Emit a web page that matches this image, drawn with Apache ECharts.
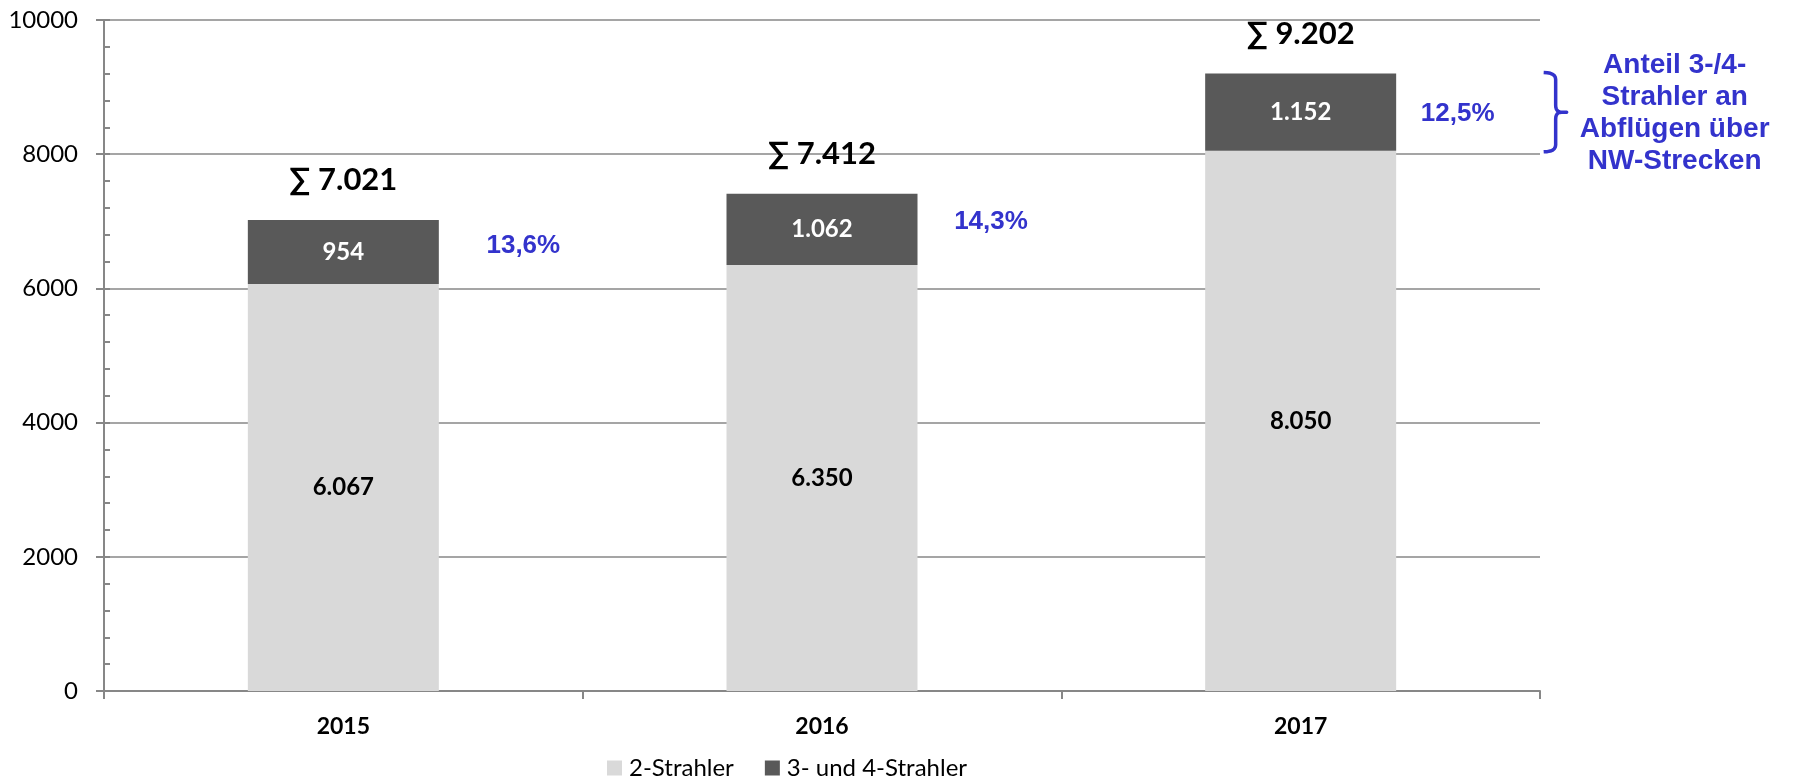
<!DOCTYPE html>
<html>
<head>
<meta charset="utf-8">
<script src="https://cdn.jsdelivr.net/npm/echarts@6/dist/echarts.min.js"></script>
<style>
html,body{margin:0;padding:0;background:#fff;}
#chart{width:1793px;height:779px;}
</style>
</head>
<body>
<div id="chart"></div>
<script>
const categories = ['2015', '2016', '2017'];
const twoEngine = [6067, 6350, 8050];
const threeFourEngine = [954, 1062, 1152];
const totals = [7021, 7412, 9202];
const shares = ['13,6%', '14,3%', '12,5%'];
const seriesNames = ['2-Strahler', '3- und 4-Strahler'];
const noteText = 'Anteil 3-/4-\nStrahler an\nAbflügen über\nNW-Strecken';

const fmt = v => String(v).replace(/\B(?=(\d{3})+(?!\d))/g, '.');
const blue = '#3333CC';
const gray = '#878787';
const shareOffsets = [[180, -6], [169, -7], [157, 2]];

const chart = echarts.init(document.getElementById('chart'));
chart.setOption({
  animation: false,
  textStyle: { fontFamily: 'Lato' },
  grid: { left: 104, right: 253, top: 20, bottom: 88 },
  legend: {
    data: seriesNames,
    top: 751,
    left: 602,
    itemWidth: 15,
    itemHeight: 15,
    itemGap: 31,
    icon: 'rect',
    textStyle: { fontSize: 24, color: '#000', fontFamily: 'Lato', lineHeight: 22, padding: [0, 0, 0, 2] }
  },
  xAxis: {
    type: 'category',
    data: categories,
    axisLine: { lineStyle: { color: gray, width: 2 } },
    axisTick: { show: true, length: 8, lineStyle: { color: gray, width: 2 } },
    axisLabel: { fontSize: 23, fontWeight: 'bold', color: '#000', margin: 24, fontFamily: 'Lato' }
  },
  yAxis: [{
    type: 'value',
    min: 0, max: 10000, interval: 2000,
    axisLine: { show: true, lineStyle: { color: gray, width: 2 } },
    axisTick: { show: true, length: 8, lineStyle: { color: gray, width: 2 } },
    splitLine: { lineStyle: { color: gray, width: 1.5 } },
    axisLabel: { fontSize: 24, color: '#000', margin: 26, fontFamily: 'Lato', formatter: v => String(v) }
  }, {
    type: 'value',
    min: 0, max: 10000, interval: 400,
    position: 'left',
    axisLine: { show: false },
    axisTick: { show: true, inside: true, length: 6, lineStyle: { color: gray, width: 2 } },
    splitLine: { show: false },
    axisLabel: { show: false }
  }],
  series: [{
    name: seriesNames[0],
    type: 'bar',
    stack: 'a',
    barWidth: 191,
    data: twoEngine,
    itemStyle: { color: '#D9D9D9' },
    label: {
      show: true, position: 'inside',
      formatter: p => fmt(p.value),
      fontSize: 24, fontWeight: 'bold', color: '#000', fontFamily: 'Lato'
    }
  }, {
    name: seriesNames[1],
    type: 'bar',
    stack: 'a',
    barWidth: 191,
    data: threeFourEngine,
    itemStyle: { color: '#595959' },
    label: {
      show: true, position: 'inside',
      formatter: p => fmt(p.value),
      fontSize: 24, fontWeight: 'bold', color: '#fff', fontFamily: 'Lato'
    }
  }, {
    name: 'sum',
    type: 'scatter',
    symbolSize: 0,
    silent: true,
    itemStyle: { opacity: 1 },
    data: totals.map((t, i) => [i, t]),
    label: {
      show: true, position: 'top', distance: 24, opacity: 1,
      formatter: p => '∑ ' + fmt(totals[p.dataIndex]),
      fontSize: 31, fontWeight: 'bold', color: '#000', fontFamily: 'Lato'
    }
  }, {
    name: 'share',
    type: 'scatter',
    symbolSize: 0,
    silent: true,
    itemStyle: { opacity: 1 },
    data: twoEngine.map((v, i) => ({
      value: [i, v + threeFourEngine[i] / 2],
      label: { offset: shareOffsets[i] }
    })),
    label: {
      show: true, position: 'inside', opacity: 1,
      formatter: p => shares[p.dataIndex],
      fontSize: 26, fontWeight: 'bold', color: blue, fontFamily: 'Liberation Sans'
    }
  }]
});

// curly bracket spanning the 2017 upper segment + note text
function quad(p0, c, p1, n) {
  const pts = [];
  for (let k = 0; k <= n; k++) {
    const t = k / n, u = 1 - t;
    pts.push([u * u * p0[0] + 2 * u * t * c[0] + t * t * p1[0], u * u * p0[1] + 2 * u * t * c[1] + t * t * p1[1]]);
  }
  return pts;
}
const last = categories.length - 1;
const pTop = chart.convertToPixel({ xAxisIndex: 0, yAxisIndex: 0 }, [last, totals[last]]);
const pBot = chart.convertToPixel({ xAxisIndex: 0, yAxisIndex: 0 }, [last, twoEngine[last]]);
const x0 = pTop[0] + 243, x1 = x0 + 12, x2 = x0 + 23;
const y0 = pTop[1] - 1, y1 = pBot[1] + 1, ym = (y0 + y1) / 2, r = 7;
const brace = [].concat(
  quad([x0, y0], [x1, y0], [x1, y0 + r], 6),
  quad([x1, ym - r], [x1, ym], [x1 + 6, ym], 6),
  [[x2, ym]],
  quad([x1 + 6, ym], [x1, ym], [x1, ym + r], 6),
  quad([x1, y1 - r], [x1, y1], [x0, y1], 6)
);
chart.setOption({
  graphic: [{
    type: 'polyline',
    shape: { points: brace },
    style: { stroke: blue, lineWidth: 3.5, fill: null, lineJoin: 'round' },
    silent: true
  }, {
    type: 'text',
    x: x0 + 131,
    y: ym + 1,
    silent: true,
    style: {
      text: noteText,
      fill: blue,
      font: 'bold 28px "Liberation Sans"',
      textAlign: 'center',
      textVerticalAlign: 'middle',
      lineHeight: 32
    }
  }]
});
</script>
</body>
</html>
